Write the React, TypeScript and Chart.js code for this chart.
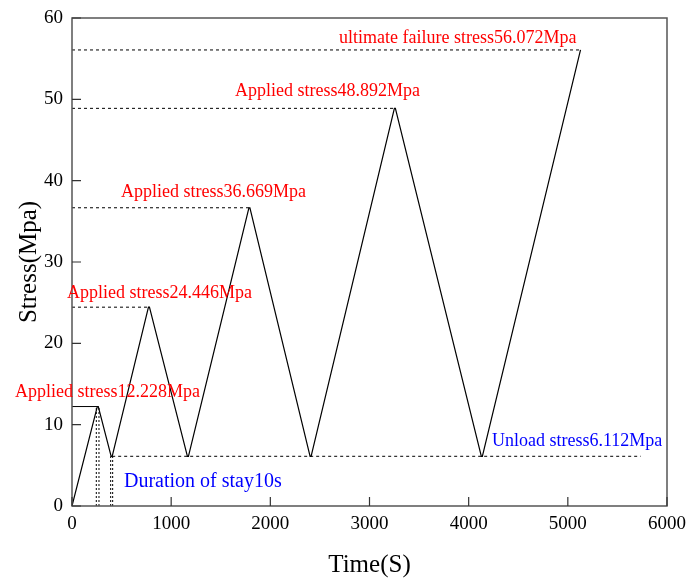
import React, { useEffect, useRef } from "react";
import { Chart, registerables } from "chart.js";

Chart.register(...registerables);

// Loading path (time in s, stress in MPa)
const times = [0, 255, 265, 395, 405, 771, 781, 1164, 1174, 1784, 1794, 2401, 2411, 3251, 3261, 4128, 4138, 5128];
const stresses = [0, 12.228, 12.228, 6.112, 6.112, 24.446, 24.446, 6.112, 6.112, 36.669, 36.669, 6.112, 6.112, 48.892, 48.892, 6.112, 6.112, 56.072];

// Reference levels
const appliedLevels = [12.228, 24.446, 36.669, 48.892, 56.072];
const appliedEnds = [255, 771, 1784, 3251, 5128];
const unloadLevel = 6.112;
const unloadStart = 405;
const unloadEnd = 5735;
const stayLinesPeak = [245, 272];
const stayLinesValley = [390, 410];

const xTicks = [0, 1000, 2000, 3000, 4000, 5000, 6000];
const yTicks = [0, 10, 20, 30, 40, 50, 60];

// Annotation texts with anchor (data units)
const labelTexts = [
  "Applied stress12.228Mpa",
  "Applied stress24.446Mpa",
  "Applied stress36.669Mpa",
  "Applied stress48.892Mpa",
  "ultimate failure stress56.072Mpa",
];
const labelX = [-575, -50, 494, 1644, 2692];
const labelY = [14.0, 26.1, 38.6, 51.0, 57.5];
const unloadText = "Unload stress6.112Mpa";
const unloadTextPos = [4235, 8.0];
const stayText = "Duration of stay10s";
const stayTextPos = [524, 2.95];

const FONT = "'Liberation Serif', 'Times New Roman', serif";

export default function App() {
  const ref = useRef<HTMLCanvasElement | null>(null);

  useEffect(() => {
    if (!ref.current) return;
    const mainData = times.map((t, i) => ({ x: t, y: stresses[i] }));
    const datasets: any[] = [];
    appliedLevels.forEach((lv, i) => {
      datasets.push({
        data: [{ x: 0, y: lv }, { x: appliedEnds[i], y: lv }],
        borderColor: "#000",
        borderWidth: 1,
        borderDash: i === 0 ? [] : [3, 3],
        pointRadius: 0,
      });
    });
    datasets.push({
      data: [{ x: unloadStart, y: unloadLevel }, { x: unloadEnd, y: unloadLevel }],
      borderColor: "#000",
      borderWidth: 1,
      borderDash: [3, 3],
      pointRadius: 0,
    });
    stayLinesPeak.forEach((t) => {
      datasets.push({
        data: [{ x: t, y: 0 }, { x: t, y: appliedLevels[0] }],
        borderColor: "#000",
        borderWidth: 1,
        borderDash: [2, 2],
        pointRadius: 0,
      });
    });
    stayLinesValley.forEach((t) => {
      datasets.push({
        data: [{ x: t, y: 0 }, { x: t, y: unloadLevel }],
        borderColor: "#000",
        borderWidth: 1,
        borderDash: [2, 2],
        pointRadius: 0,
      });
    });
    datasets.push({
      data: mainData,
      borderColor: "#000",
      borderWidth: 1.2,
      pointRadius: 0,
    });

    const annot = {
      id: "annot",
      afterDraw(chart: any) {
        const { ctx, chartArea, scales } = chart;
        const xs = scales.x;
        const ys = scales.y;
        ctx.save();
        // frame
        ctx.strokeStyle = "#555";
        ctx.lineWidth = 1.5;
        ctx.strokeRect(chartArea.left, chartArea.top, chartArea.right - chartArea.left, chartArea.bottom - chartArea.top);
        // inward ticks
        ctx.lineWidth = 1.2;
        ctx.strokeStyle = "#333";
        ctx.beginPath();
        xTicks.forEach((v) => {
          const px = xs.getPixelForValue(v);
          ctx.moveTo(px, chartArea.bottom);
          ctx.lineTo(px, chartArea.bottom - 9);
        });
        yTicks.forEach((v) => {
          const py = ys.getPixelForValue(v);
          ctx.moveTo(chartArea.left, py);
          ctx.lineTo(chartArea.left + 9, py);
        });
        ctx.stroke();
        // texts
        ctx.textBaseline = "middle";
        ctx.textAlign = "left";
        ctx.font = `18px ${FONT}`;
        ctx.fillStyle = "#ff0000";
        labelTexts.forEach((t, i) => {
          ctx.fillText(t, xs.getPixelForValue(labelX[i]), ys.getPixelForValue(labelY[i]));
        });
        ctx.fillStyle = "#0000ff";
        ctx.fillText(unloadText, xs.getPixelForValue(unloadTextPos[0]), ys.getPixelForValue(unloadTextPos[1]));
        ctx.font = `20px ${FONT}`;
        ctx.fillText(stayText, xs.getPixelForValue(stayTextPos[0]), ys.getPixelForValue(stayTextPos[1]));
        ctx.restore();
      },
    };

    const chart = new Chart(ref.current, {
      type: "line",
      data: { datasets },
      options: {
        animation: false,
        responsive: false,
        parsing: false as any,
        layout: { padding: { left: 0, right: 20, top: 18, bottom: 0 } },
        plugins: { legend: { display: false }, tooltip: { enabled: false } },
        scales: {
          x: {
            type: "linear",
            min: 0,
            max: 6000,
            afterFit: (s: any) => {
              s.height = 75;
              s.paddingLeft = 0;
              s.paddingRight = 0;
            },
            afterBuildTicks: (s: any) => {
              s.ticks = xTicks.map((v) => ({ value: v }));
            },
            grid: { display: false, drawTicks: false },
            border: { display: false },
            ticks: {
              color: "#000",
              font: { family: FONT, size: 19 },
              padding: 7,
              maxRotation: 0,
              callback: (v: any) => String(v),
            },
            title: { display: true, text: "Time(S)", color: "#000", font: { family: FONT, size: 25 }, padding: { top: 0, bottom: 1 } },
          },
          y: {
            type: "linear",
            min: 0,
            max: 60,
            afterFit: (s: any) => {
              s.width = 72;
              s.paddingTop = 0;
              s.paddingBottom = 0;
            },
            afterBuildTicks: (s: any) => {
              s.ticks = yTicks.map((v) => ({ value: v }));
            },
            grid: { display: false, drawTicks: false },
            border: { display: false },
            ticks: { color: "#000", font: { family: FONT, size: 19 }, padding: 9, callback: (v: any) => String(v) },
            title: { display: true, text: "Stress(Mpa)", color: "#000", font: { family: FONT, size: 25 }, padding: { top: 14, bottom: 0 } },
          },
        },
      },
      plugins: [annot],
    });
    return () => chart.destroy();
  }, []);

  return (
    <div style={{ position: "fixed", left: 0, top: 0, width: 687, height: 581, background: "#fff" }}>
      <canvas ref={ref} width={687} height={581} />
    </div>
  );
}
